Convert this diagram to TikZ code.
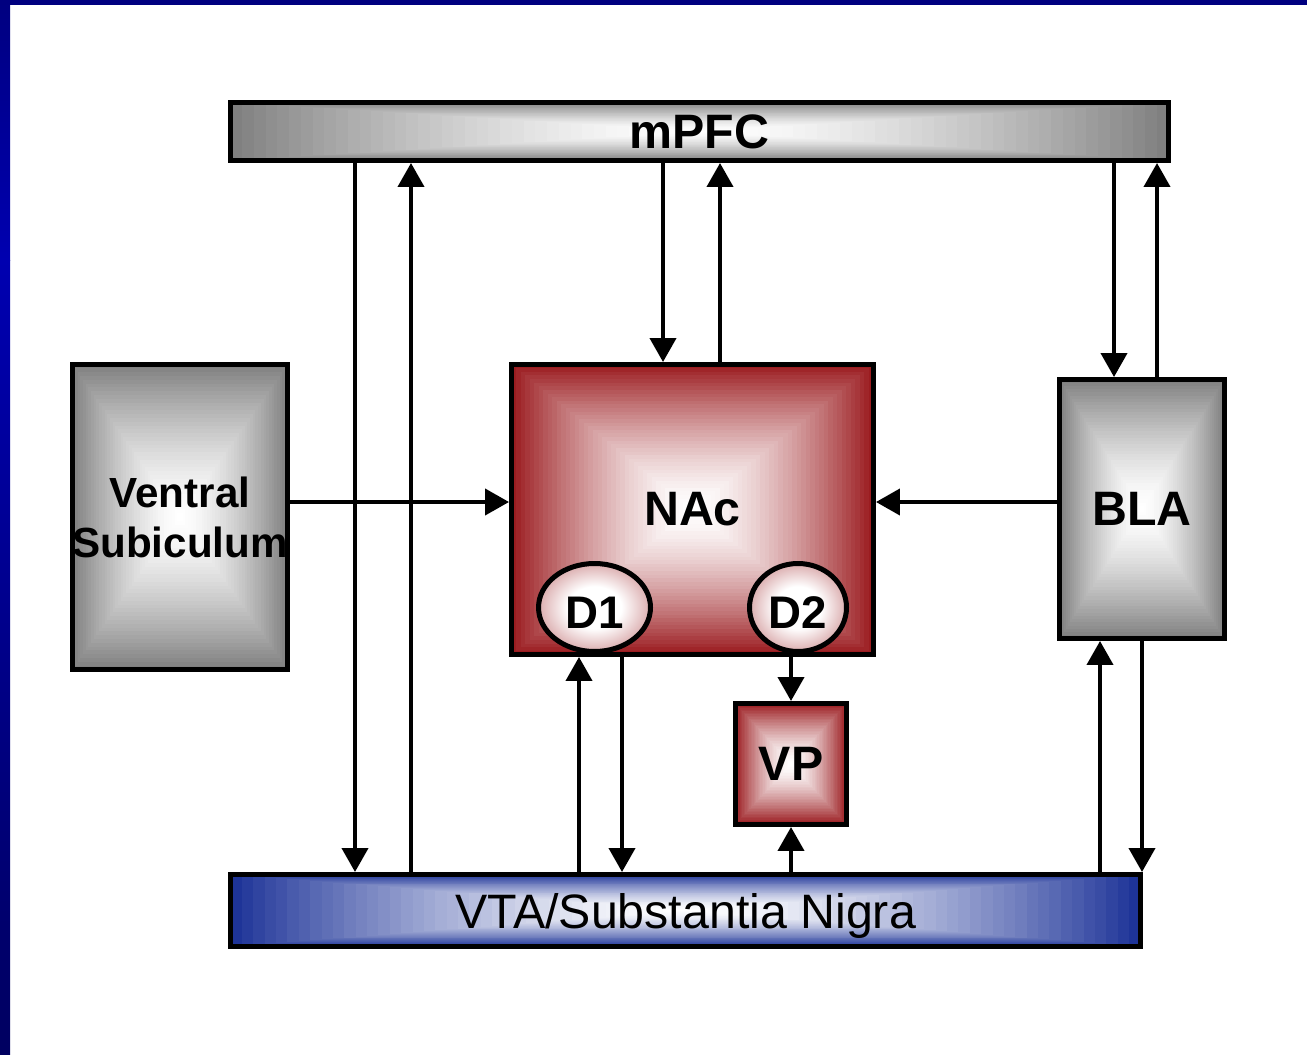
\documentclass[tikz,border=0pt]{standalone}
\usepackage{fontspec}
\setmainfont{Liberation Sans}
\usetikzlibrary{arrows.meta,positioning,calc,shapes.geometric}
\definecolor{colG}{RGB}{128,128,128}
\definecolor{colR}{RGB}{155,28,32}
\definecolor{colB}{RGB}{30,52,152}
\definecolor{colN}{RGB}{0,0,128}
\definecolor{colNmid}{RGB}{0,0,176}
\definecolor{colNdark}{RGB}{0,0,96}
\pgfdeclareradialshading{dotshade}{\pgfpoint{0bp}{0bp}}{color(0bp)=(white); color(12bp)=(white); color(30bp)=(colR!50!white); color(42bp)=(colR); color(50bp)=(colR)}

\begin{document}
\begin{tikzpicture}[
  x=0.02cm, y=-0.02cm,
  every node/.style={font=\bfseries\fontsize{27.5}{30}\selectfont, inner sep=0pt},
  region/.style={draw, rectangle, line width=2.85pt, align=center},
  recshade/.style={path picture={
    \foreach \k in {0,...,40}{
      \pgfmathsetmacro\shfrac{1-\k/40}
      \pgfmathtruncatemacro\shpct{100*\shfrac^1.5}
      \fill[#1!\shpct!white] ($(path picture bounding box.center)!\shfrac!(path picture bounding box.south west)$) rectangle ($(path picture bounding box.center)!\shfrac!(path picture bounding box.north east)$);
    }}},
  dot/.style={draw, ellipse, line width=2.85pt, shading=dotshade,
    font=\bfseries\fontsize{26}{28}\selectfont, text height=0.82cm, text depth=0pt},
  arr/.style={line width=2.3pt, -{Triangle[length=0.48cm,width=0.52cm]}}
]
% page and blue frame
\path[use as bounding box] (0,0) rectangle (1307,1054);
\fill[white] (0,0) rectangle (1307,1054);
\shade[top color=colN, bottom color=colNmid] (0,0) rectangle (10,260);
\shade[top color=colNmid, bottom color=colNdark] (0,260) rectangle (10,1054);
\fill[colN] (0,0) rectangle (1307,5);

% regions
\node[region, recshade=colG, minimum width=18.76cm, minimum height=1.16cm] (mPFC) at (699.5,131.5) {mPFC};
\node[region, recshade=colG, minimum width=4.18cm, minimum height=6.1cm,
  font=\bfseries\fontsize{24}{28.5}\selectfont] (VS) at (180,517) {Ventral\\Subiculum};
\node[region, recshade=colR, minimum width=7.24cm, minimum height=5.8cm] (NAc) at (692.5,509.5) {NAc};
\node[region, recshade=colG, minimum width=3.3cm, minimum height=5.18cm] (BLA) at (1142,509) {BLA};
\node[region, recshade=colR, minimum width=2.22cm, minimum height=2.42cm] (VP) at (791,764) {VP};
\node[region, recshade=colB, minimum width=18.2cm, minimum height=1.44cm, text depth=0pt,
  font=\fontsize{27.5}{30}\selectfont] (VTA) at (685.5,910.5) {VTA/Substantia Nigra};
\node[dot, minimum width=2.24cm, minimum height=1.76cm] (D1) at (594.5,607.5) {D1};
\node[dot, minimum width=1.94cm, minimum height=1.76cm] (D2) at (798,607.5) {D2};

% projections
\draw[arr] (355,0 |- mPFC.south) -- (355,0 |- VTA.north);
\draw[arr] (411,0 |- VTA.north) -- (411,0 |- mPFC.south);
\draw[arr] (663,0 |- mPFC.south) -- (663,0 |- NAc.north);
\draw[arr] (720,0 |- NAc.north) -- (720,0 |- mPFC.south);
\draw[arr] (1114,0 |- mPFC.south) -- (1114,0 |- BLA.north);
\draw[arr] (1157,0 |- BLA.north) -- (1157,0 |- mPFC.south);
\draw[arr] (VS.east |- 0,502) -- (NAc.west |- 0,502);
\draw[arr] (BLA.west |- 0,502) -- (NAc.east |- 0,502);
\draw[arr] (579,0 |- VTA.north) -- (579,0 |- NAc.south);
\draw[arr] (622,0 |- NAc.south) -- (622,0 |- VTA.north);
\draw[arr] (VP.north |- D2.south) -- (VP.north);
\draw[arr] (VP.south |- VTA.north) -- (VP.south);
\draw[arr] (1100,0 |- VTA.north) -- (1100,0 |- BLA.south);
\draw[arr] (1142,0 |- BLA.south) -- (1142,0 |- VTA.north);
\end{tikzpicture}
\end{document}
